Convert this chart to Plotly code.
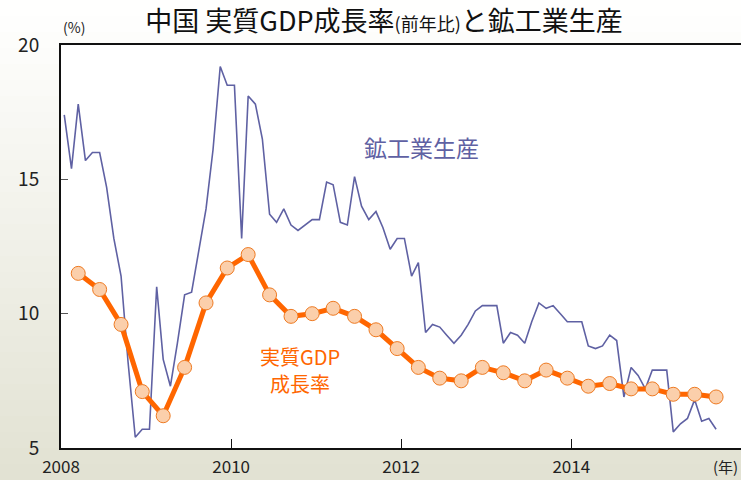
import plotly.graph_objects as go
import pandas as pd

# Monthly industrial production growth (%), Jan 2008 - Sep 2015
ip_values = [
    17.4, 15.4, 17.8, 15.7, 16.0, 16.0, 14.7, 12.8, 11.4, 8.2, 5.4, 5.7,   # 2008
    5.7, 11.0, 8.3, 7.3, 8.9, 10.7, 10.8, 12.3, 13.9, 16.1, 19.2, 18.5,    # 2009
    18.5, 12.8, 18.1, 17.8, 16.5, 13.7, 13.4, 13.9, 13.3, 13.1, 13.3, 13.5,  # 2010
    13.5, 14.9, 14.8, 13.4, 13.3, 15.1, 14.0, 13.5, 13.8, 13.2, 12.4, 12.8,  # 2011
    12.8, 11.4, 11.9, 9.3, 9.6, 9.5, 9.2, 8.9, 9.2, 9.6, 10.1, 10.3,        # 2012
    10.3, 10.3, 8.9, 9.3, 9.2, 8.9, 9.7, 10.4, 10.2, 10.3, 10.0, 9.7,       # 2013
    9.7, 9.7, 8.8, 8.7, 8.8, 9.2, 9.0, 6.9, 8.0, 7.7, 7.2, 7.9,             # 2014
    7.9, 7.9, 5.6, 5.9, 6.1, 6.8, 6.0, 6.1, 5.7,                            # 2015
]
ip_dates = pd.date_range("2008-01-01", periods=len(ip_values), freq="MS") + pd.Timedelta(days=14)

# Quarterly real GDP growth (% y/y), 2008Q1 - 2015Q3
gdp_values = [
    11.5, 10.9, 9.6, 7.1,
    6.2, 8.0, 10.4, 11.7,
    12.2, 10.7, 9.9, 10.0,
    10.2, 9.9, 9.4, 8.7,
    8.0, 7.6, 7.5, 8.0,
    7.8, 7.5, 7.9, 7.6,
    7.3, 7.4, 7.2, 7.2,
    7.0, 7.0, 6.9,
]
gdp_dates = pd.date_range("2008-03-01", periods=len(gdp_values), freq="3MS") + pd.Timedelta(days=14)

x_tick_vals = ["2008-01-01", "2010-01-01", "2012-01-01", "2014-01-01"]
x_tick_text = ["2008", "2010", "2012", "2014"]
y_tick_vals = [5, 10, 15, 20]

FONT = "Noto Sans CJK JP, Noto Sans, sans-serif"

fig = go.Figure()

fig.add_trace(go.Scatter(
    x=ip_dates, y=ip_values, mode="lines",
    line=dict(color="#5F61A3", width=1.6),
    name="鉱工業生産", showlegend=False, hoverinfo="x+y",
))
fig.add_trace(go.Scatter(
    x=gdp_dates, y=gdp_values, mode="lines+markers",
    line=dict(color="#FF6600", width=5),
    marker=dict(size=14, color="#FBCFAB", line=dict(color="#EE7A22", width=1)),
    name="実質GDP成長率", showlegend=False, hoverinfo="x+y",
))

# background gradient bands (paper), then white plot area
W, H = 741, 480
L, R, T, B = 61, 0, 45, 32
pw, ph = W - L - R, H - T - B
shapes = []
n = 30
top_c = (255, 255, 255)
bot_c = (226, 226, 210)
for k in range(n):
    y0px = H * k / n
    y1px = H * (k + 1) / n + 1
    f = (k + 0.5) / n
    c = tuple(round(top_c[j] + (bot_c[j] - top_c[j]) * f) for j in range(3))
    shapes.append(dict(
        type="rect", xref="paper", yref="paper", layer="below",
        x0=-L / pw, x1=1 + 5 / pw,
        y0=(H - B - y1px) / ph, y1=(H - B - y0px) / ph,
        fillcolor="rgb(%d,%d,%d)" % c, line=dict(width=0),
    ))
shapes.append(dict(type="rect", xref="paper", yref="paper", layer="below",
                   x0=0, x1=1, y0=0, y1=1, fillcolor="white", line=dict(width=0)))


def ann(text, cx, cy, size, color):
    return dict(text=text, xref="paper", yref="paper",
                x=(cx - L) / pw, y=(H - B - cy) / ph,
                xanchor="center", yanchor="middle", showarrow=False,
                font=dict(size=size, color=color, family=FONT))


fig.update_layout(
    width=W, height=H,
    margin=dict(l=L, r=R, t=T, b=B, autoexpand=False),
    paper_bgcolor="#EFEFE4", plot_bgcolor="white",
    font=dict(family=FONT, color="#222222"),
    shapes=shapes,
    title=dict(
        text="中国 実質GDP成長率<span style='font-size:18px'>(前年比)</span>と鉱工業生産",
        font=dict(size=27, color="#111111", family=FONT),
        x=384 / W, xanchor="center", xref="container",
        y=1 - 22 / H, yanchor="middle", yref="container",
        automargin=False,
    ),
    xaxis=dict(
        type="date", range=["2008-01-01", "2015-12-31"],
        tickvals=x_tick_vals, ticktext=x_tick_text,
        ticks="inside", ticklen=9, tickwidth=1.3, tickcolor="#111111",
        showgrid=False, zeroline=False, automargin=False,
        showline=True, linecolor="#111111", linewidth=2, mirror=True,
        tickfont=dict(size=17, color="#222222"),
        ticklabelstandoff=3,
    ),
    yaxis=dict(
        range=[5, 20], tickvals=y_tick_vals,
        ticks="inside", ticklen=7, tickwidth=1.3, tickcolor="#555555",
        showgrid=False, zeroline=False, automargin=False,
        showline=True, linecolor="#111111", linewidth=2,
        tickfont=dict(size=19, color="#222222"),
        ticklabelstandoff=16,
    ),
    annotations=[
        ann("鉱工業生産", 421, 147, 23, "#5F61A3"),
        ann("実質GDP", 300, 356, 20, "#FF6600"),
        ann("成長率", 300, 383, 20, "#FF6600"),
        ann("(%)", 74, 27, 14, "#222222"),
        ann("(年)", 725, 466, 15, "#222222"),
    ],
)

fig.write_html(
    "out.html",
    config={"displayModeBar": False},
    post_script="document.body.style.margin='0';document.body.style.overflow='hidden';",
)
